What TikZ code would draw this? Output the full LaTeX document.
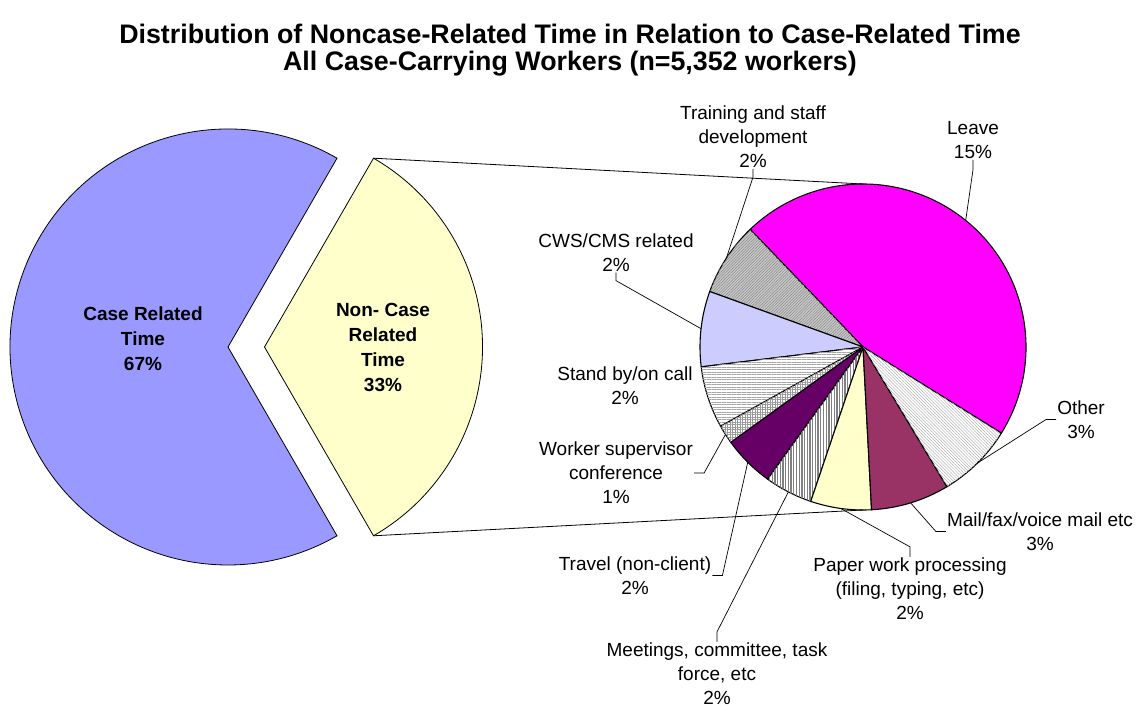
\documentclass[tikz,border=0pt]{standalone}
\usepackage{fontspec}
\setmainfont{Liberation Sans}
\usetikzlibrary{patterns.meta}
\definecolor{casecol}{HTML}{9999FF}
\definecolor{noncol}{HTML}{FFFFCC}
\definecolor{leavecol}{HTML}{FF00FF}
\definecolor{mailcol}{HTML}{993366}
\definecolor{travelcol}{HTML}{660066}
\definecolor{cwscol}{HTML}{CCCCFF}

\tikzset{
  slice/.style={draw=black, line width=1.1pt, line join=round},
  lbl/.style={align=center, inner sep=1pt, font=\fontsize{19}{24}\selectfont},
  biglbl/.style={align=center, font=\fontsize{19}{25}\selectfont\bfseries},
  leader/.style={draw=black, line width=0.7pt},
  pleave/.style={fill=leavecol},
  ptrain/.style={fill=black!22, postaction={pattern={Lines[angle=45,distance=2pt,line width=0.5pt]}, pattern color=black!45}},
  pcws/.style={fill=cwscol},
  pstand/.style={fill=white, postaction={pattern={Lines[angle=0,distance=2.5pt,line width=0.6pt]}, pattern color=black!35}},
  pworker/.style={fill=white, postaction={pattern={Hatch[angle=0,distance=2.5pt,line width=0.5pt]}, pattern color=black!40}},
  ptravel/.style={fill=travelcol},
  pmeet/.style={fill=white, postaction={pattern={Lines[angle=90,distance=2.7pt,line width=1.3pt]}, pattern color=black!50}},
  ppaper/.style={fill=noncol},
  pmail/.style={fill=mailcol},
  pother/.style={fill=white, postaction={pattern={Lines[angle=-45,distance=2.2pt,line width=0.5pt]}, pattern color=black!30}}
}

\begin{document}
\begin{tikzpicture}[x=1pt, y=1pt]
  \useasboundingbox (0,0) rectangle (1141,707);
  % title
  \node[align=center, font=\fontsize{26.8}{27}\selectfont\bfseries] (title) at (570,657)
    {Distribution of Noncase-Related Time in Relation to Case-Related Time\\All Case-Carrying Workers (n=5,352 workers)};

  % left pie, with the non-case slice pulled out
  \coordinate (lc) at (228,360);
  \coordinate (yc) at (264.5,360);
  \draw[fill=casecol, line width=0.8pt] (lc) -- ++(60:218) arc[start angle=60, end angle=300, radius=218] -- cycle;
  \draw[fill=noncol, line width=0.8pt] (yc) -- ++(-60:218) coordinate (nbot)
    arc[start angle=-60, end angle=60, radius=218] coordinate (ntop) -- cycle;
  \node[biglbl] (lblcase) at (143,368) {Case Related\\Time\\67\%};
  \node[biglbl] (lblnon) at (383,359.5) {Non- Case\\Related\\Time\\33\%};

  % right pie: start/end angle/style/name
  \coordinate (rc) at (863,360);
  \foreach \a/\b/\sty/\n in {-31.9/133.8/pleave/leave, 133.8/160.1/ptrain/train,
      160.1/187/pcws/cws, 187/209.1/pstand/stand, 209.1/215.8/pworker/worker,
      215.8/234.2/ptravel/travel, 234.2/251.3/pmeet/meet, 251.3/273/ppaper/paper,
      273/301/pmail/mail, 301/328.1/pother/other}{
    \draw[slice,\sty] (rc) -- ++(\a:163) arc[start angle=\a, end angle=\b, radius=163] -- cycle;
    \path (rc) ++({(\a+\b)/2}:163) coordinate (r\n);
  }
  \path (rc) ++(90:163) coordinate (rtop);
  \path (rc) ++(270:163) coordinate (rbot);

  % lines joining the two pies
  \draw[line width=0.8pt] (ntop) -- (rtop);
  \draw[line width=0.8pt] (nbot) -- (rbot);

  % slice labels
  \node[lbl] (lbltrain) at (753,570) {Training and staff\\development\\2\%};
  \node[lbl] (lblcws) at (616,454.5) {CWS/CMS related\\2\%};
  \node[lbl] (lblstand) at (625,321.5) {Stand by/on call\\2\%};
  \node[lbl] (lblworker) at (616,234) {Worker supervisor\\conference\\1\%};
  \node[lbl] (lbltravel) at (635,131.5) {Travel (non-client)\\2\%};
  \node[lbl] (lblmeet) at (717,33) {Meetings, committee, task\\force, etc\\2\%};
  \node[lbl] (lblpaper) at (910,118) {Paper work processing\\(filing, typing, etc)\\2\%};
  \node[lbl] (lblmail) at (1040,175.5) {Mail/fax/voice mail etc\\3\%};
  \node[lbl] (lblother) at (1081,287.5) {Other\\3\%};
  \node[lbl] (lblleave) at (973,567) {Leave\\15\%};

  % leader lines
  \draw[leader] (lbltrain.south) -- ++(0,-8) -- (rtrain);
  \draw[leader] (lblcws.south) -- ++(0,-8) -- (rcws);
  \draw[leader] (lblworker.east) -- ++(10,0) -- (rworker);
  \draw[leader] (lbltravel.east) -- ++(10,0) -- (rtravel);
  \draw[leader] (lblmeet.north) -- ++(0,10) -- (rmeet);
  \draw[leader] (lblpaper.north) -- ++(0,10) -- (rpaper);
  \draw[leader] (lblmail.west) -- ++(-10,0) -- (rmail);
  \draw[leader] (lblother.west) -- ++(-10,0) -- (rother);
  \draw[leader] (lblleave.south) -- ++(0,-10) -- (rleave);
\end{tikzpicture}
\end{document}
